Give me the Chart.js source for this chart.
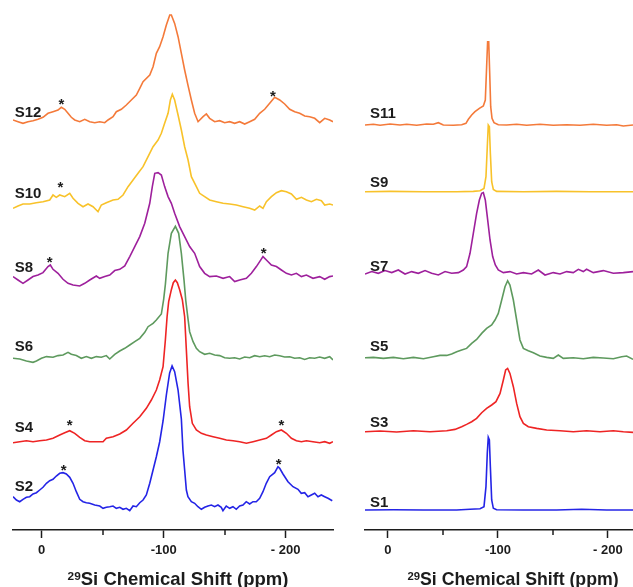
<!DOCTYPE html>
<html>
<head>
<meta charset="utf-8">
<script src="https://cdn.jsdelivr.net/npm/chart.js@4/dist/chart.umd.min.js"></script>
<style>
  body { margin: 0; background: #fff; }
  #wrap { position: relative; width: 633px; height: 587px; overflow: hidden; }
  #left { position: absolute; left: 0; top: 0; }
  #right { position: absolute; left: 345px; top: 0; }
  .title { position: absolute; top: 568px; line-height: 22px; font-family: "Liberation Sans", Arial, sans-serif;
           font-weight: bold; color: #1c1c1c; white-space: nowrap; transform: translateX(-50%); }
  .title sup { font-size: 0.64em; vertical-align: 0; position: relative; top: -0.42em; }
</style>
</head>
<body>
<div id="wrap">
  <canvas id="left" width="345" height="587"></canvas>
  <canvas id="right" width="288" height="587"></canvas>
  <div class="title" style="left:178px; font-size:18.5px"><sup>29</sup>Si Chemical Shift (ppm)</div>
  <div class="title" style="left:513px; font-size:17.7px"><sup>29</sup>Si Chemical Shift (ppm)</div>
</div>
<script>
// Data: [ppm, intensity above own baseline]

// Left panel
const s2 = [[23.5,10.3],[20.7,7],[18.0,5.3],[15.3,7.7],[12.5,9.7],[9.8,10.3],[7.1,13],[4.3,14.3],[1.6,17],[-1.1,19.7],[-3.9,23.7],[-6.6,26.3],[-9.3,27.7],[-12.0,31],[-14.8,33.7],[-17.5,34.3],[-20.2,33],[-23.0,29.7],[-25.7,23.7],[-28.4,15.3],[-31.2,7.7],[-33.9,5.3],[-36.6,4.3],[-39.4,3.7],[-43.5,2],[-47.6,1],[-50.3,-1.3],[-53.0,-0.3],[-55.8,0.3],[-58.5,1],[-61.2,-1.3],[-64.0,-0.3],[-66.7,-2.3],[-69.4,-1.3],[-72.2,-3.7],[-74.9,1],[-77.6,0.3],[-80.4,4.3],[-83.1,7],[-85.8,12],[-88.6,23.7],[-91.3,37],[-94.0,50.3],[-96.7,65],[-99.5,86],[-102.2,112],[-104.9,134],[-106.9,141],[-109.0,135.3],[-111.8,117],[-114.5,88],[-115.8,57],[-117.2,37],[-118.6,17],[-119.9,10.3],[-122.7,5.3],[-125.4,3.7],[-128.1,0.3],[-130.9,-2.3],[-133.6,-0.3],[-136.3,1],[-139.1,2],[-141.8,0.3],[-144.5,2],[-147.2,-0.3],[-148.6,-3.7],[-151.3,1],[-154.1,-1.3],[-156.8,0.3],[-159.5,-2.3],[-162.3,1],[-165.0,2],[-167.7,5.3],[-170.5,3],[-173.2,5.3],[-175.9,5.3],[-178.7,8.7],[-181.4,15.3],[-184.1,23.7],[-186.9,30.3],[-191.0,34.3],[-193.7,40.3],[-195.1,38.7],[-197.8,33],[-201.9,25.3],[-206.0,20.3],[-210.1,17.7],[-212.8,13.7],[-215.6,14.3],[-218.3,10.3],[-221.0,12],[-223.8,13.7],[-226.5,10.3],[-229.2,12],[-232.0,10.3],[-234.7,8.7],[-238.2,6.3]];
const s4 = [[23.5,-1],[18.0,0],[12.5,1],[7.1,0],[1.6,1],[-3.9,1.7],[-9.3,3.4],[-14.8,6.7],[-18.9,9],[-23.0,11],[-27.1,8.4],[-31.2,4.4],[-35.3,1],[-39.4,0],[-44.8,0],[-50.3,0],[-53.0,3.4],[-58.5,5],[-64.0,7.7],[-69.4,11.7],[-74.9,18.4],[-80.4,25],[-85.8,33.4],[-89.9,41.7],[-94.0,51.7],[-96.7,61.7],[-99.5,75],[-101.4,101.7],[-102.8,125],[-104.1,140],[-106.3,152],[-107.9,159],[-109.6,161.7],[-111.2,159],[-113.1,152],[-115.3,142],[-117.2,125],[-118.6,91.7],[-120.0,58.4],[-121.3,35],[-123.5,18.4],[-126.8,11.7],[-130.9,8.4],[-135.0,6.7],[-140.5,5],[-145.9,3.4],[-151.4,1.7],[-156.9,1],[-162.3,0],[-167.8,-1.6],[-173.3,0],[-178.7,1.7],[-184.2,3.4],[-188.3,6.7],[-192.4,10],[-196.5,11.7],[-200.6,8.4],[-204.7,3.4],[-208.8,1],[-212.9,0],[-217.0,1],[-222.4,0],[-227.9,-1],[-232.0,0],[-236.1,-1.6],[-238.8,0]];
const s6 = [[23.5,1],[18.0,0.3],[12.5,-1.7],[7.1,-3],[4.3,-1.7],[0.2,1],[-3.9,2.7],[-9.3,2],[-13.4,3.7],[-17.5,4.3],[-21.6,7],[-24.3,5],[-28.4,3.7],[-32.5,1],[-36.6,2.7],[-40.7,1],[-44.8,2.7],[-48.9,2],[-53.0,3.7],[-55.8,0.3],[-59.9,5],[-64.0,8.3],[-68.1,11],[-72.2,14.3],[-76.3,17.7],[-80.4,21],[-84.5,27],[-87.2,32.6],[-91.3,36],[-94.0,39.3],[-98.1,45.3],[-100.0,60],[-101.4,75],[-103.6,106],[-106.3,126],[-109.6,133],[-112.3,126],[-114.5,106],[-116.7,79],[-118.1,59],[-120.0,40],[-121.3,27.6],[-124.1,17.6],[-126.8,11],[-129.5,7.6],[-133.6,5],[-137.7,6],[-141.8,4.3],[-145.9,3.7],[-150.0,1.6],[-154.1,1],[-158.2,1.6],[-162.3,0.3],[-166.4,2.3],[-170.5,1.6],[-174.6,3.6],[-178.7,2.6],[-182.8,3.6],[-186.9,2.6],[-191.0,4.3],[-195.1,3.6],[-199.2,2.3],[-203.3,2.6],[-207.4,1],[-211.5,1.6],[-215.6,-0.1],[-219.7,1.6],[-223.8,1],[-227.9,2.3],[-232.0,1],[-236.1,2.6],[-238.8,-0.7]];
const s8 = [[23.5,1.7],[19.4,-1.7],[15.3,-5],[11.2,-1.7],[7.1,1.7],[3.0,3.3],[-1.1,5.7],[-5.2,11.7],[-7.1,13.3],[-9.3,9],[-13.4,5],[-17.5,-1],[-21.6,-5],[-25.7,-6.7],[-31.2,-7.7],[-35.3,-5],[-39.4,-1.7],[-44.8,2.3],[-47.6,0],[-51.7,1.7],[-55.8,3.3],[-59.9,7.7],[-64.0,9],[-68.1,12.3],[-72.2,21.7],[-76.3,31.7],[-80.4,41.7],[-84.5,55],[-88.6,75],[-90.7,91.7],[-92.7,105],[-95.4,105.7],[-98.1,103.3],[-100.8,91.7],[-103.6,81.7],[-106.3,75],[-109.0,65],[-113.1,51.7],[-117.2,41.7],[-121.3,31.7],[-125.4,25],[-129.5,11.7],[-133.6,5],[-137.7,1.7],[-143.2,2.3],[-148.7,0],[-154.1,1.7],[-158.2,-3.3],[-162.3,-1.7],[-167.8,0],[-171.9,5],[-176.0,11.7],[-178.7,16.7],[-181.4,21.7],[-184.2,18.3],[-188.3,13.3],[-192.4,11.7],[-196.5,8.3],[-200.6,5],[-204.7,3.3],[-208.8,5],[-212.9,1.7],[-217.0,3.3],[-222.4,0],[-227.9,1.7],[-232.0,-1],[-236.1,1.7],[-238.8,2.3]];
const s10 = [[23.5,-3.3],[19.4,-1],[15.3,1],[9.8,1],[4.4,2.3],[-1.1,3.3],[-6.6,5],[-9.3,10],[-12.0,7.7],[-14.8,10],[-18.9,8.3],[-23.0,11.7],[-25.7,6.7],[-29.8,1.7],[-33.9,-1.7],[-38.0,1],[-42.1,-1.7],[-46.2,-6.7],[-48.9,0],[-53.0,2.3],[-58.5,5],[-62.6,5.7],[-66.7,10],[-70.8,18.3],[-74.9,25],[-79.0,31.7],[-83.1,38.3],[-87.2,48.3],[-91.3,58.3],[-95.4,65],[-98.1,71.7],[-100.8,81.7],[-103.6,91.7],[-105.5,105],[-107.1,110.7],[-109.0,105],[-111.8,90],[-114.5,75],[-117.2,58.3],[-120.0,45],[-122.7,28.3],[-126.8,18.3],[-129.5,11.7],[-133.6,8.3],[-137.7,5],[-143.2,3.3],[-148.7,1.7],[-154.1,1],[-159.6,0],[-165.1,-1.7],[-170.5,-3.3],[-174.6,-5],[-178.7,-1],[-181.4,-3.3],[-184.2,3.3],[-188.3,8.3],[-192.4,12.3],[-196.5,14.3],[-200.6,13.3],[-204.7,11],[-208.8,5.7],[-212.9,7.7],[-217.0,5],[-221.1,3.3],[-225.2,5.7],[-229.3,4.3],[-232.0,0],[-236.1,1],[-238.8,0]];
const s12 = [[23.5,1.7],[19.4,0],[15.3,-1.6],[11.2,0],[7.1,1],[3.0,2.4],[-1.1,4.4],[-5.2,8.4],[-9.3,10],[-13.4,11.7],[-16.1,14.4],[-18.9,12.4],[-21.6,8.4],[-24.3,4.4],[-27.1,1.7],[-31.2,0],[-35.3,2.4],[-39.4,0],[-43.5,-1],[-47.6,0],[-51.7,-1],[-54.4,1.7],[-58.5,5],[-61.2,10],[-65.3,12.4],[-69.4,16.7],[-73.5,21.7],[-77.6,26.7],[-80.4,33.4],[-83.1,40],[-88.6,46.7],[-91.3,55],[-94.0,68.3],[-96.7,75],[-99.5,85],[-102.2,96.7],[-105.0,106.7],[-106.3,106.7],[-109.0,98.3],[-111.8,85],[-114.5,68.3],[-117.2,51.7],[-120.0,36],[-122.7,21.7],[-125.4,8.4],[-128.2,0],[-132.3,5],[-135.0,7.7],[-137.7,3.4],[-141.8,0],[-145.9,1],[-150.0,-1],[-154.1,0],[-158.2,-1.6],[-162.3,0],[-166.4,-2.3],[-170.5,0],[-174.6,2.4],[-178.7,8.4],[-182.8,12.4],[-186.9,18.4],[-191.0,24.4],[-195.1,21.7],[-199.2,17.7],[-203.3,12.4],[-207.4,10],[-211.5,8.4],[-215.6,5.7],[-219.7,5],[-223.8,3.4],[-227.9,-1],[-232.0,3.4],[-236.1,1.7],[-238.8,0]];

// Right panel
const s1 = [[20.9,0],[-4.9,0.3],[-32.2,0],[-62.5,0],[-74.6,0.7],[-83.7,1.3],[-87.3,3.3],[-89.1,23.3],[-90.3,56.7],[-91.2,72.7],[-92.2,70],[-93.1,43.3],[-94.3,10],[-95.8,1.7],[-98.8,0.3],[-123.1,0],[-153.4,0],[-176.1,0.7],[-198.8,0],[-222.8,0]];
const s3 = [[20.9,0],[7.2,0.7],[-7.9,-0.3],[-23.1,1],[-38.2,0],[-53.4,1],[-60.9,2.3],[-67.0,5],[-71.5,7.3],[-76.1,10],[-80.6,13.3],[-85.2,19],[-89.7,23.3],[-94.3,26.7],[-98.2,30],[-101.9,38.3],[-104.9,51.7],[-107.0,61.7],[-108.8,63.3],[-110.9,58.3],[-114.0,45],[-117.0,28.3],[-120.0,15],[-123.1,8.3],[-127.6,5],[-135.2,3.3],[-144.3,1.7],[-156.4,1],[-168.5,0],[-180.6,1],[-192.8,0],[-204.9,1],[-214.0,0],[-222.8,-0.7]];
const s5 = [[20.9,0],[13.3,0.3],[4.2,-0.7],[-4.9,0.3],[-14.0,-1],[-23.1,0.3],[-32.2,-1],[-41.2,1],[-47.3,2.3],[-53.4,2.3],[-57.9,3.7],[-62.5,6],[-67.0,7.7],[-71.5,9.3],[-76.1,14.3],[-80.6,18.3],[-85.2,24.3],[-89.7,29.3],[-94.3,32.7],[-97.3,37.7],[-100.3,44.3],[-103.4,57.7],[-106.4,71],[-108.8,77],[-110.9,72.7],[-114.0,57.7],[-117.0,37.7],[-120.0,17.7],[-123.1,9.3],[-127.6,7],[-132.2,5],[-138.2,1.7],[-144.3,0.3],[-150.3,-0.7],[-154.9,2.7],[-159.4,-0.7],[-168.5,0],[-177.6,-1],[-186.7,0.3],[-195.8,-0.3],[-204.9,-1],[-212.5,1],[-217.0,1.7],[-222.8,-1.7]];
const s7 = [[20.9,-0.7],[14.8,1.7],[8.8,0],[2.7,2.7],[-3.4,0.7],[-9.4,3.3],[-15.5,-0.7],[-21.5,1.7],[-27.6,0],[-33.7,2.7],[-39.7,0],[-45.8,-1.7],[-51.9,1.7],[-57.9,0],[-64.0,0.7],[-68.5,3.3],[-71.5,6.7],[-74.6,20],[-77.6,40],[-80.6,60],[-83.1,73.3],[-85.2,80],[-86.7,80.7],[-88.5,73.3],[-90.3,56.7],[-92.8,33.3],[-95.2,16.7],[-97.6,8.3],[-100.3,3.3],[-104.9,0.7],[-110.9,1.7],[-117.0,-0.7],[-123.1,0.7],[-130.6,-0.7],[-136.7,3.3],[-142.8,-1.7],[-150.3,0.7],[-156.4,-0.7],[-162.5,1.7],[-168.5,0.7],[-173.1,4],[-177.6,1.7],[-180.6,4],[-186.7,0.7],[-195.8,2.7],[-204.9,0],[-214.0,0.7],[-222.8,1.7]];
const s9 = [[20.9,0],[-1.9,0.3],[-32.2,0],[-62.5,0],[-77.6,0.3],[-83.7,1],[-87.3,3.3],[-89.1,15],[-90.3,45],[-91.2,66.7],[-92.2,65],[-93.1,38.3],[-94.3,10],[-95.8,2.3],[-98.8,0.3],[-123.1,0],[-153.4,0.3],[-183.7,0],[-222.8,0]];
const s11 = [[20.9,0],[13.3,0.7],[7.2,-0.3],[-1.9,1],[-10.9,0],[-17.0,0.7],[-26.1,-0.3],[-35.2,1],[-41.2,0.7],[-45.8,2.3],[-50.3,0],[-59.4,-0.3],[-67.0,0.3],[-70.9,1.7],[-73.1,5.7],[-76.1,10],[-79.1,13.3],[-83.1,16.7],[-86.7,19],[-88.5,25],[-89.7,58.3],[-90.6,83.3],[-91.6,83.3],[-92.5,51.7],[-93.4,18.3],[-94.6,6.7],[-96.4,2.3],[-100.3,0.3],[-107.9,0],[-117.0,0.7],[-126.1,-0.3],[-138.2,0.7],[-150.3,-0.3],[-162.5,0.3],[-174.6,-0.3],[-186.7,0.7],[-198.8,-0.3],[-207.9,0.3],[-214.0,-1],[-222.8,0]];

const leftNames = ['S2', 'S4', 'S6', 'S8', 'S10', 'S12'];
const rightNames = ['S1', 'S3', 'S5', 'S7', 'S9', 'S11'];
const tickVals = [0, -50, -100, -150, -200];
const tickText = { '0': '0', '-100': '-100', '-200': '- 200' };
// spinning side bands marked with *  [ppm, height]
const leftStars = [[-18, 64], [-194.3, 70], [-23, 109], [-196.5, 109], [-6.6, 272], [-182, 281], [-15.3, 347], [-16.1, 430], [-189.6, 438.3]];

// Layout (vertical stacking and label anchors, in axis units)
const leftBase = [23, 88.3, 170.7, 251.7, 325, 408.3];
const rightBase = [20, 98.3, 172.3, 256.7, 338.3, 405];
const leftLabelY = [43, 102, 183, 262, 336, 417];
const rightLabelY = [27, 107, 183, 263, 347, 416];
const colors = ['#2424e6', '#ee2424', '#5e9a5e', '#9e209c', '#f8c22a', '#f47a3a'];
const FONT = '"Liberation Sans", Arial, sans-serif';

const annot = {
  id: 'annot',
  afterDraw(chart, args, opts) {
    const { ctx, scales: { x, y } } = chart;
    ctx.save();
    // minor ticks
    ctx.strokeStyle = '#1c1c1c';
    ctx.lineWidth = 1.5;
    [-50, -150].forEach(v => {
      const px = Math.round(x.getPixelForValue(v));
      ctx.beginPath();
      ctx.moveTo(px, chart.chartArea.bottom);
      ctx.lineTo(px, chart.chartArea.bottom + 5);
      ctx.stroke();
    });
    ctx.fillStyle = '#1c1c1c';
    ctx.font = 'bold 15px ' + FONT;
    ctx.textAlign = 'left';
    ctx.textBaseline = 'middle';
    opts.names.forEach((n, i) => {
      ctx.fillText(n, x.getPixelForValue(opts.labelX), y.getPixelForValue(opts.labelY[i]));
    });
    ctx.textAlign = 'center';
    ctx.textBaseline = 'alphabetic';
    opts.stars.forEach(s => {
      ctx.fillText('*', x.getPixelForValue(s[0]), y.getPixelForValue(s[1]) + 9);
    });
    ctx.restore();
  }
};

function makeChart(id, series, names, base, labelY, labelX, stars, range, pad) {
  return new Chart(document.getElementById(id), {
    type: 'line',
    data: {
      datasets: series.map((s, i) => ({
        label: names[i],
        data: s.map(p => ({ x: p[0], y: p[1] + base[i] })),
        borderColor: colors[i],
        borderWidth: 1.6,
        pointRadius: 0,
        tension: 0,
        fill: false
      }))
    },
    options: {
      responsive: false,
      animation: false,
      layout: { padding: { left: pad[0], right: pad[1], top: 0, bottom: 0 } },
      plugins: {
        legend: { display: false },
        tooltip: { enabled: false },
        annot: { names: names, labelY: labelY, labelX: labelX, stars: stars }
      },
      scales: {
        x: {
          type: 'linear',
          reverse: true,
          min: range[1],
          max: range[0],
          afterBuildTicks: s => { s.ticks = tickVals.map(v => ({ value: v })); },
          afterFit: s => { s.height = 57; },
          ticks: {
            autoSkip: false,
            maxRotation: 0,
            padding: 5,
            color: '#1c1c1c',
            font: { family: FONT, size: 13, weight: 'bold' },
            callback: v => tickText[String(v)] || ''
          },
          grid: {
            drawOnChartArea: false,
            tickLength: 8,
            tickWidth: 1.5,
            tickColor: c => (c.tick && tickText[String(c.tick.value)] ? '#1c1c1c' : 'rgba(0,0,0,0)')
          },
          border: { color: '#1c1c1c', width: 1.5 }
        },
        y: { display: false, min: 0, max: 530 }
      }
    },
    plugins: [annot]
  });
}

makeChart('left', [s2, s4, s6, s8, s10, s12], leftNames, leftBase, leftLabelY, 22.1, leftStars, [23.5, -238.8], [13, 12]);
makeChart('right', [s1, s3, s5, s7, s9, s11], rightNames, rightBase, rightLabelY, 16.4, [], [20.9, -222.8], [20, 0]);
</script>
</body>
</html>
